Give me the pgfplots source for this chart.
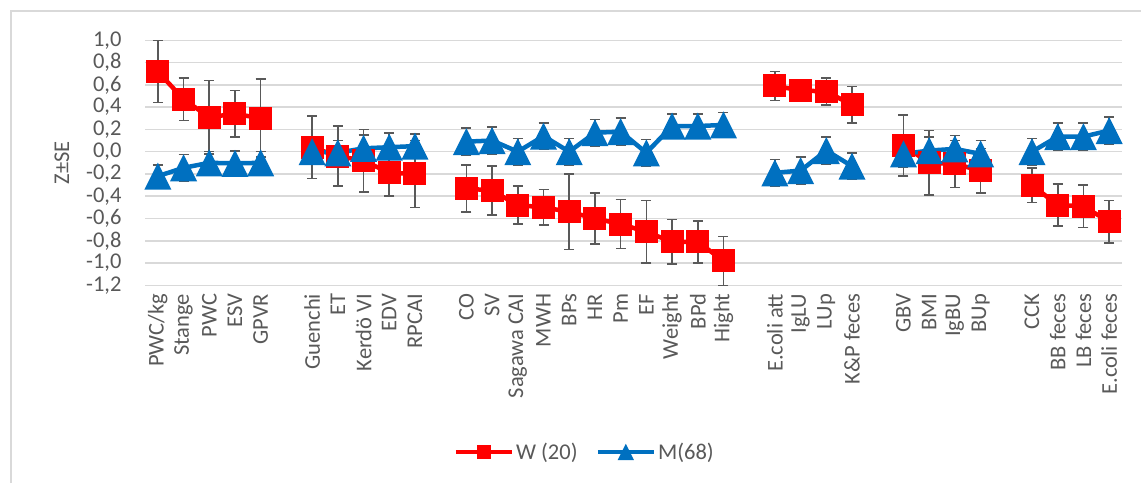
\documentclass[border=0pt]{standalone}
\usepackage{fontspec}
\setmainfont{Carlito}
\usepackage{pgfplots}
\usepackage{pgfplotstable}
\pgfplotsset{compat=1.18}
\definecolor{wred}{HTML}{FF0000}
\definecolor{mblue}{HTML}{0070C0}
\definecolor{errg}{HTML}{595959}
\definecolor{txtg}{HTML}{595959}
\definecolor{gridg}{HTML}{D9D9D9}
\definecolor{frameg}{HTML}{D9D9D9}
\pgfdeclareplotmark{xsq}{%
  \pgfpathrectangle{\pgfqpoint{-11.5pt}{-11.5pt}}{\pgfqpoint{23pt}{23pt}}%
  \pgfusepathqfill}
\pgfdeclareplotmark{xtri}{%
  \pgfpathmoveto{\pgfqpoint{0pt}{13.5pt}}%
  \pgfpathlineto{\pgfqpoint{13.5pt}{-13.5pt}}%
  \pgfpathlineto{\pgfqpoint{-13.5pt}{-13.5pt}}%
  \pgfpathclose\pgfusepathqfill}
\pgfplotstableread{
x   wy     we     my      me
0   0.72   0.28   -0.22   0.10
1   0.47   0.19   -0.145  0.12
2   0.31   0.33   -0.10   0.10
3   0.34   0.21   -0.105  0.11
4   0.30   0.35   -0.10   0.10
5   nan    nan    nan     nan
6   0.04   0.28   0.00    0.10
7   -0.04  0.27   -0.01   0.11
8   -0.08  0.28   0.03    0.12
9   -0.19  0.21   0.04    0.13
10  -0.20  0.30   0.05    0.11
11  nan    nan    nan     nan
12  -0.33  0.21   0.09    0.12
13  -0.35  0.22   0.10    0.12
14  -0.48  0.17   0.00    0.12
15  -0.50  0.16   0.14    0.12
16  -0.54  0.34   0.00    0.12
17  -0.60  0.23   0.17    0.12
18  -0.65  0.22   0.18    0.12
19  -0.72  0.28   -0.01   0.12
20  -0.81  0.20   0.23    0.11
21  -0.81  0.19   0.23    0.11
22  -0.98  0.22   0.24    0.11
23  nan    nan    nan     nan
24  0.59   0.13   -0.19   0.12
25  0.55   0.06   -0.17   0.12
26  0.54   0.12   0.01    0.12
27  0.42   0.165  -0.13   0.12
28  nan    nan    nan     nan
29  0.055  0.275  -0.02   0.12
30  -0.10  0.29   0.01    0.12
31  -0.11  0.21   0.025   0.12
32  -0.17  0.20   -0.02   0.12
33  nan    nan    nan     nan
34  -0.30  0.155  0.00    0.12
35  -0.48  0.19   0.135   0.125
36  -0.49  0.19   0.135   0.125
37  -0.63  0.19   0.19    0.12
}\datatable
\newcommand{\lblfont}{\fontsize{22.5}{27}\selectfont}
\begin{document}
\begin{tikzpicture}
\path[use as bounding box] (0,0) rectangle (1141pt,-483pt);
\fill[white] (0,0) rectangle (1141pt,-483pt);
\draw[color=frameg, line width=1.5pt] (11pt,-483pt) -- (11pt,-11pt) -- (1141pt,-11pt);
\begin{axis}[
  at={(145pt,-285.3pt)}, anchor=south west,
  scale only axis, width=977pt, height=245pt,
  xmin=-0.5, xmax=37.5, ymin=-1.2, ymax=1.0,
  clip=false,
  unbounded coords=jump,
  axis line style={draw=none},
  tick style={draw=none},
  ymajorgrids, major grid style={line width=1.5pt, color=gridg},
  ytick={-1.2,-1.0,...,1.01},
  xtick={0,...,37},
  xticklabels={PWC/kg,Stange,PWC,ESV,GPVR,,Guenchi,ET,Kerdö VI,EDV,RPCAI,,CO,SV,Sagawa CAI,MWH,BPs,HR,Pm,EF,Weight,BPd,Hight,,E.coli att,IgLU,LUp,K\&P feces,,GBV,BMI,IgBU,BUp,,CCK,BB feces,LB feces,E.coli feces},
  tick label style={font=\lblfont, color=txtg},
  xticklabel style={rotate=90, anchor=east},
  xticklabel shift=5pt,
  yticklabel shift=20pt,
  yticklabel style={/pgf/number format/.cd, fixed, fixed zerofill, precision=1, use comma, assume math mode=true},
  ylabel={\lblfont Z±SE},
  every axis y label/.style={at={([xshift=-83pt]rel axis cs:0,0.5)}, rotate=90, anchor=center, text=txtg},
  legend style={at={(0.45,-0.68)}, anchor=center, draw=none, legend columns=2, font=\lblfont, text=txtg, /tikz/every even column/.append style={column sep=16pt}},
  legend image code/.code={\draw[#1, every mark/.append style={scale=0.6}, mark repeat=2, mark phase=2] plot coordinates {(0pt,0pt) (28pt,0pt) (56pt,0pt)};},
]
\addplot[draw=none, mark=none, forget plot,
  error bars/.cd, y dir=both, y explicit,
  error bar style={line width=1.6pt, color=errg},
  error mark options={rotate=90, mark size=5pt, line width=1.6pt, color=errg}]
  table[x=x, y=wy, y error=we] {\datatable};
\addplot[color=wred, line width=4.5pt, line join=round, mark=xsq, mark options={fill=wred}]
  table[x=x, y=wy] {\datatable};
\addlegendentry{W (20)}
\addplot[draw=none, mark=none, forget plot,
  error bars/.cd, y dir=both, y explicit,
  error bar style={line width=1.6pt, color=errg},
  error mark options={rotate=90, mark size=5pt, line width=1.6pt, color=errg}]
  table[x=x, y=my, y error=me] {\datatable};
\addplot[color=mblue, line width=4.5pt, line join=round, mark=xtri, mark options={fill=mblue}]
  table[x=x, y=my] {\datatable};
\addlegendentry{M(68)}
\end{axis}
\end{tikzpicture}
\end{document}
